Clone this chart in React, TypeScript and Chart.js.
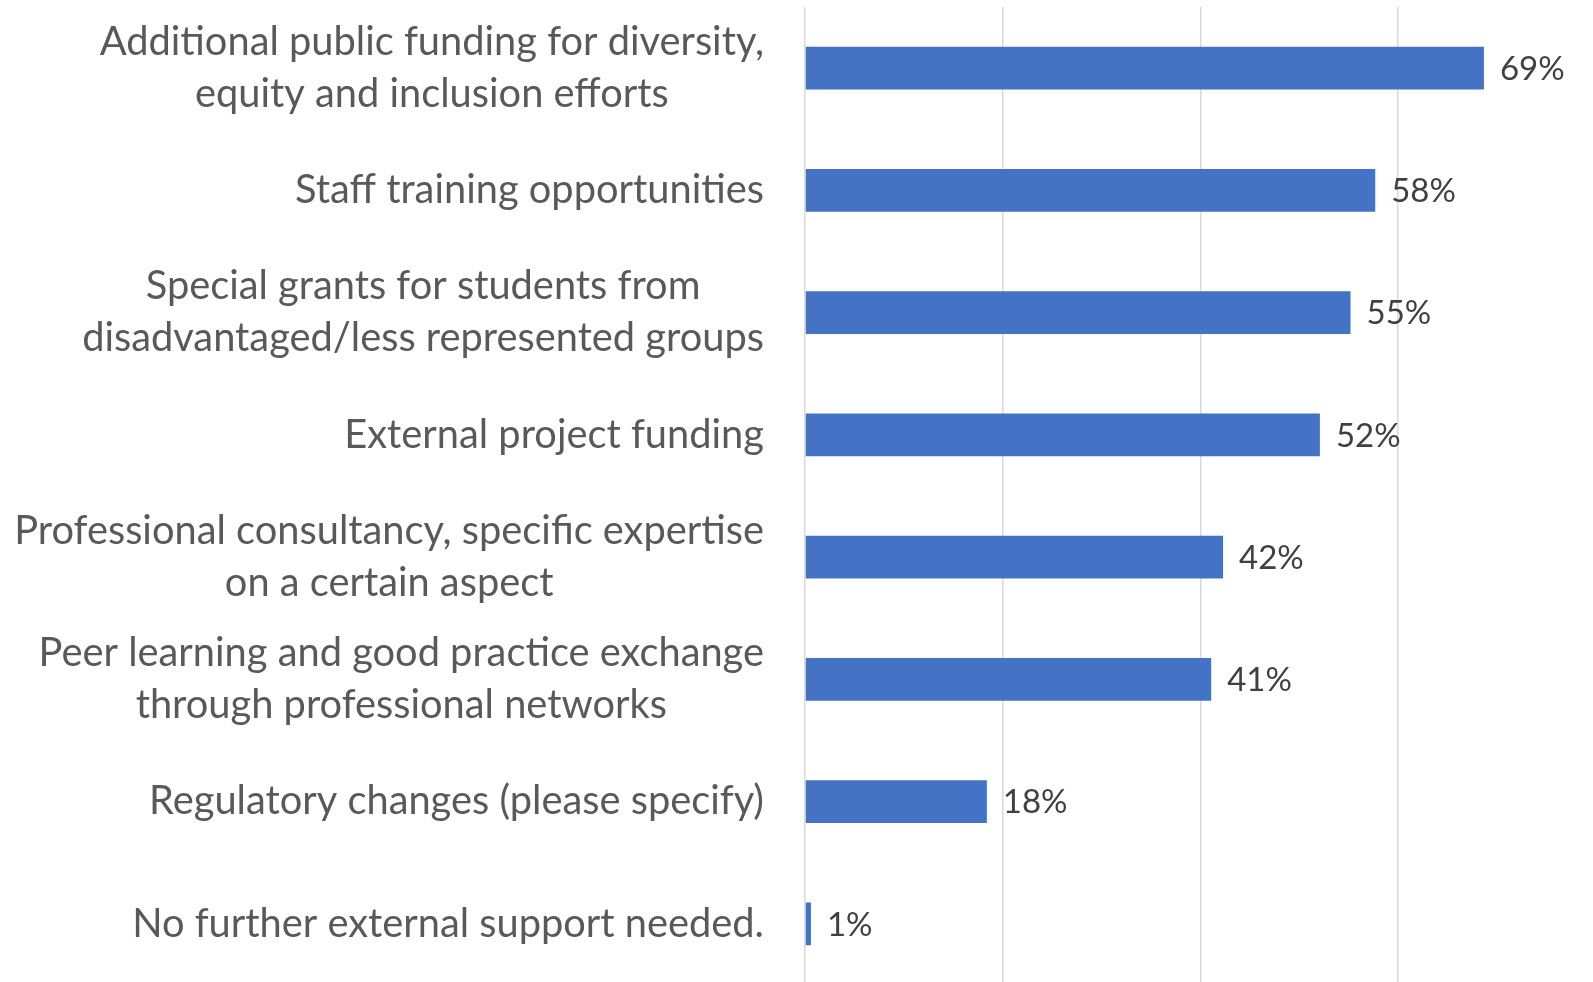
import React, { useEffect, useRef } from "react";
import { Chart, registerables } from "chart.js";

Chart.register(...registerables);

const categories: string[][] = [
  ["Additional public funding for diversity,", "equity and inclusion efforts"],
  ["Staff training opportunities"],
  ["Special grants for students from", "disadvantaged/less represented groups"],
  ["External project funding"],
  ["Professional consultancy, specific expertise", "on a certain aspect"],
  ["Peer learning and good practice exchange", "through professional networks"],
  ["Regulatory changes (please specify)"],
  ["No further external support needed."],
];

const values: number[] = [68.7, 57.7, 55.2, 52.1, 42.3, 41.1, 18.4, 0.6];

const xMin = 0;
const xMax = 80;
const xStep = 20;

const LABEL_FONT = "39.8px Lato";
const VALUE_FONT = "33px Lato";

const categoryLabelPlugin = {
  id: "categoryLabels",
  afterDraw(chart: any) {
    const ctx = chart.ctx;
    const yScale = chart.scales.y;
    const rightEdge = chart.chartArea.left - 41;
    const lineH = 52;
    ctx.save();
    ctx.font = LABEL_FONT;
    ctx.fillStyle = "#595959";
    ctx.textAlign = "center";
    ctx.textBaseline = "middle";
    categories.forEach((lines, i) => {
      const cy = yScale.getPixelForValue(i);
      const widest = Math.max(...lines.map((l) => ctx.measureText(l).width));
      const cx = rightEdge - widest / 2;
      lines.forEach((line, j) => {
        const y = cy + (j - (lines.length - 1) / 2) * lineH;
        ctx.fillText(line, cx, y);
      });
    });
    ctx.restore();
  },
};

const valueLabelPlugin = {
  id: "valueLabels",
  afterDatasetsDraw(chart: any) {
    const ctx = chart.ctx;
    const meta = chart.getDatasetMeta(0);
    ctx.save();
    ctx.font = VALUE_FONT;
    ctx.fillStyle = "#404040";
    ctx.textAlign = "left";
    ctx.textBaseline = "middle";
    meta.data.forEach((bar: any, i: number) => {
      ctx.fillText(`${Math.round(values[i])}%`, bar.x + 16, bar.y + 1);
    });
    ctx.restore();
  },
};

export default function App() {
  const canvasRef = useRef<HTMLCanvasElement | null>(null);

  useEffect(() => {
    if (!canvasRef.current) return;
    const chart = new Chart(canvasRef.current, {
      type: "bar",
      data: {
        labels: categories.map((c) => c.join(" ")),
        datasets: [
          {
            data: values,
            backgroundColor: "#4472C4",
            borderWidth: 0,
            barPercentage: 0.35,
            categoryPercentage: 1,
          },
        ],
      },
      options: {
        indexAxis: "y",
        responsive: false,
        animation: false,
        devicePixelRatio: 1,
        layout: { padding: { top: 7, bottom: 5, left: 0, right: 4.4 } },
        plugins: {
          legend: { display: false },
          tooltip: { enabled: false },
          title: { display: false },
        },
        scales: {
          x: {
            min: xMin,
            max: xMax,
            ticks: { display: false, stepSize: xStep },
            grid: { color: "#D9D9D9", lineWidth: 1.5, drawTicks: false },
            border: { display: false },
          },
          y: {
            ticks: { display: false },
            grid: { display: false, drawTicks: false },
            border: { display: false },
            afterFit(scale: any) {
              scale.width = 805;
            },
          },
        },
      },
      plugins: [categoryLabelPlugin, valueLabelPlugin],
    });
    return () => chart.destroy();
  }, []);

  return (
    <div
      style={{
        position: "fixed",
        left: 0,
        top: 0,
        width: 1593,
        height: 982,
        overflow: "hidden",
        background: "#ffffff",
      }}
    >
      <canvas
        ref={canvasRef}
        width={1600}
        height={990}
        style={{ width: 1600, height: 990, display: "block" }}
      />
    </div>
  );
}
